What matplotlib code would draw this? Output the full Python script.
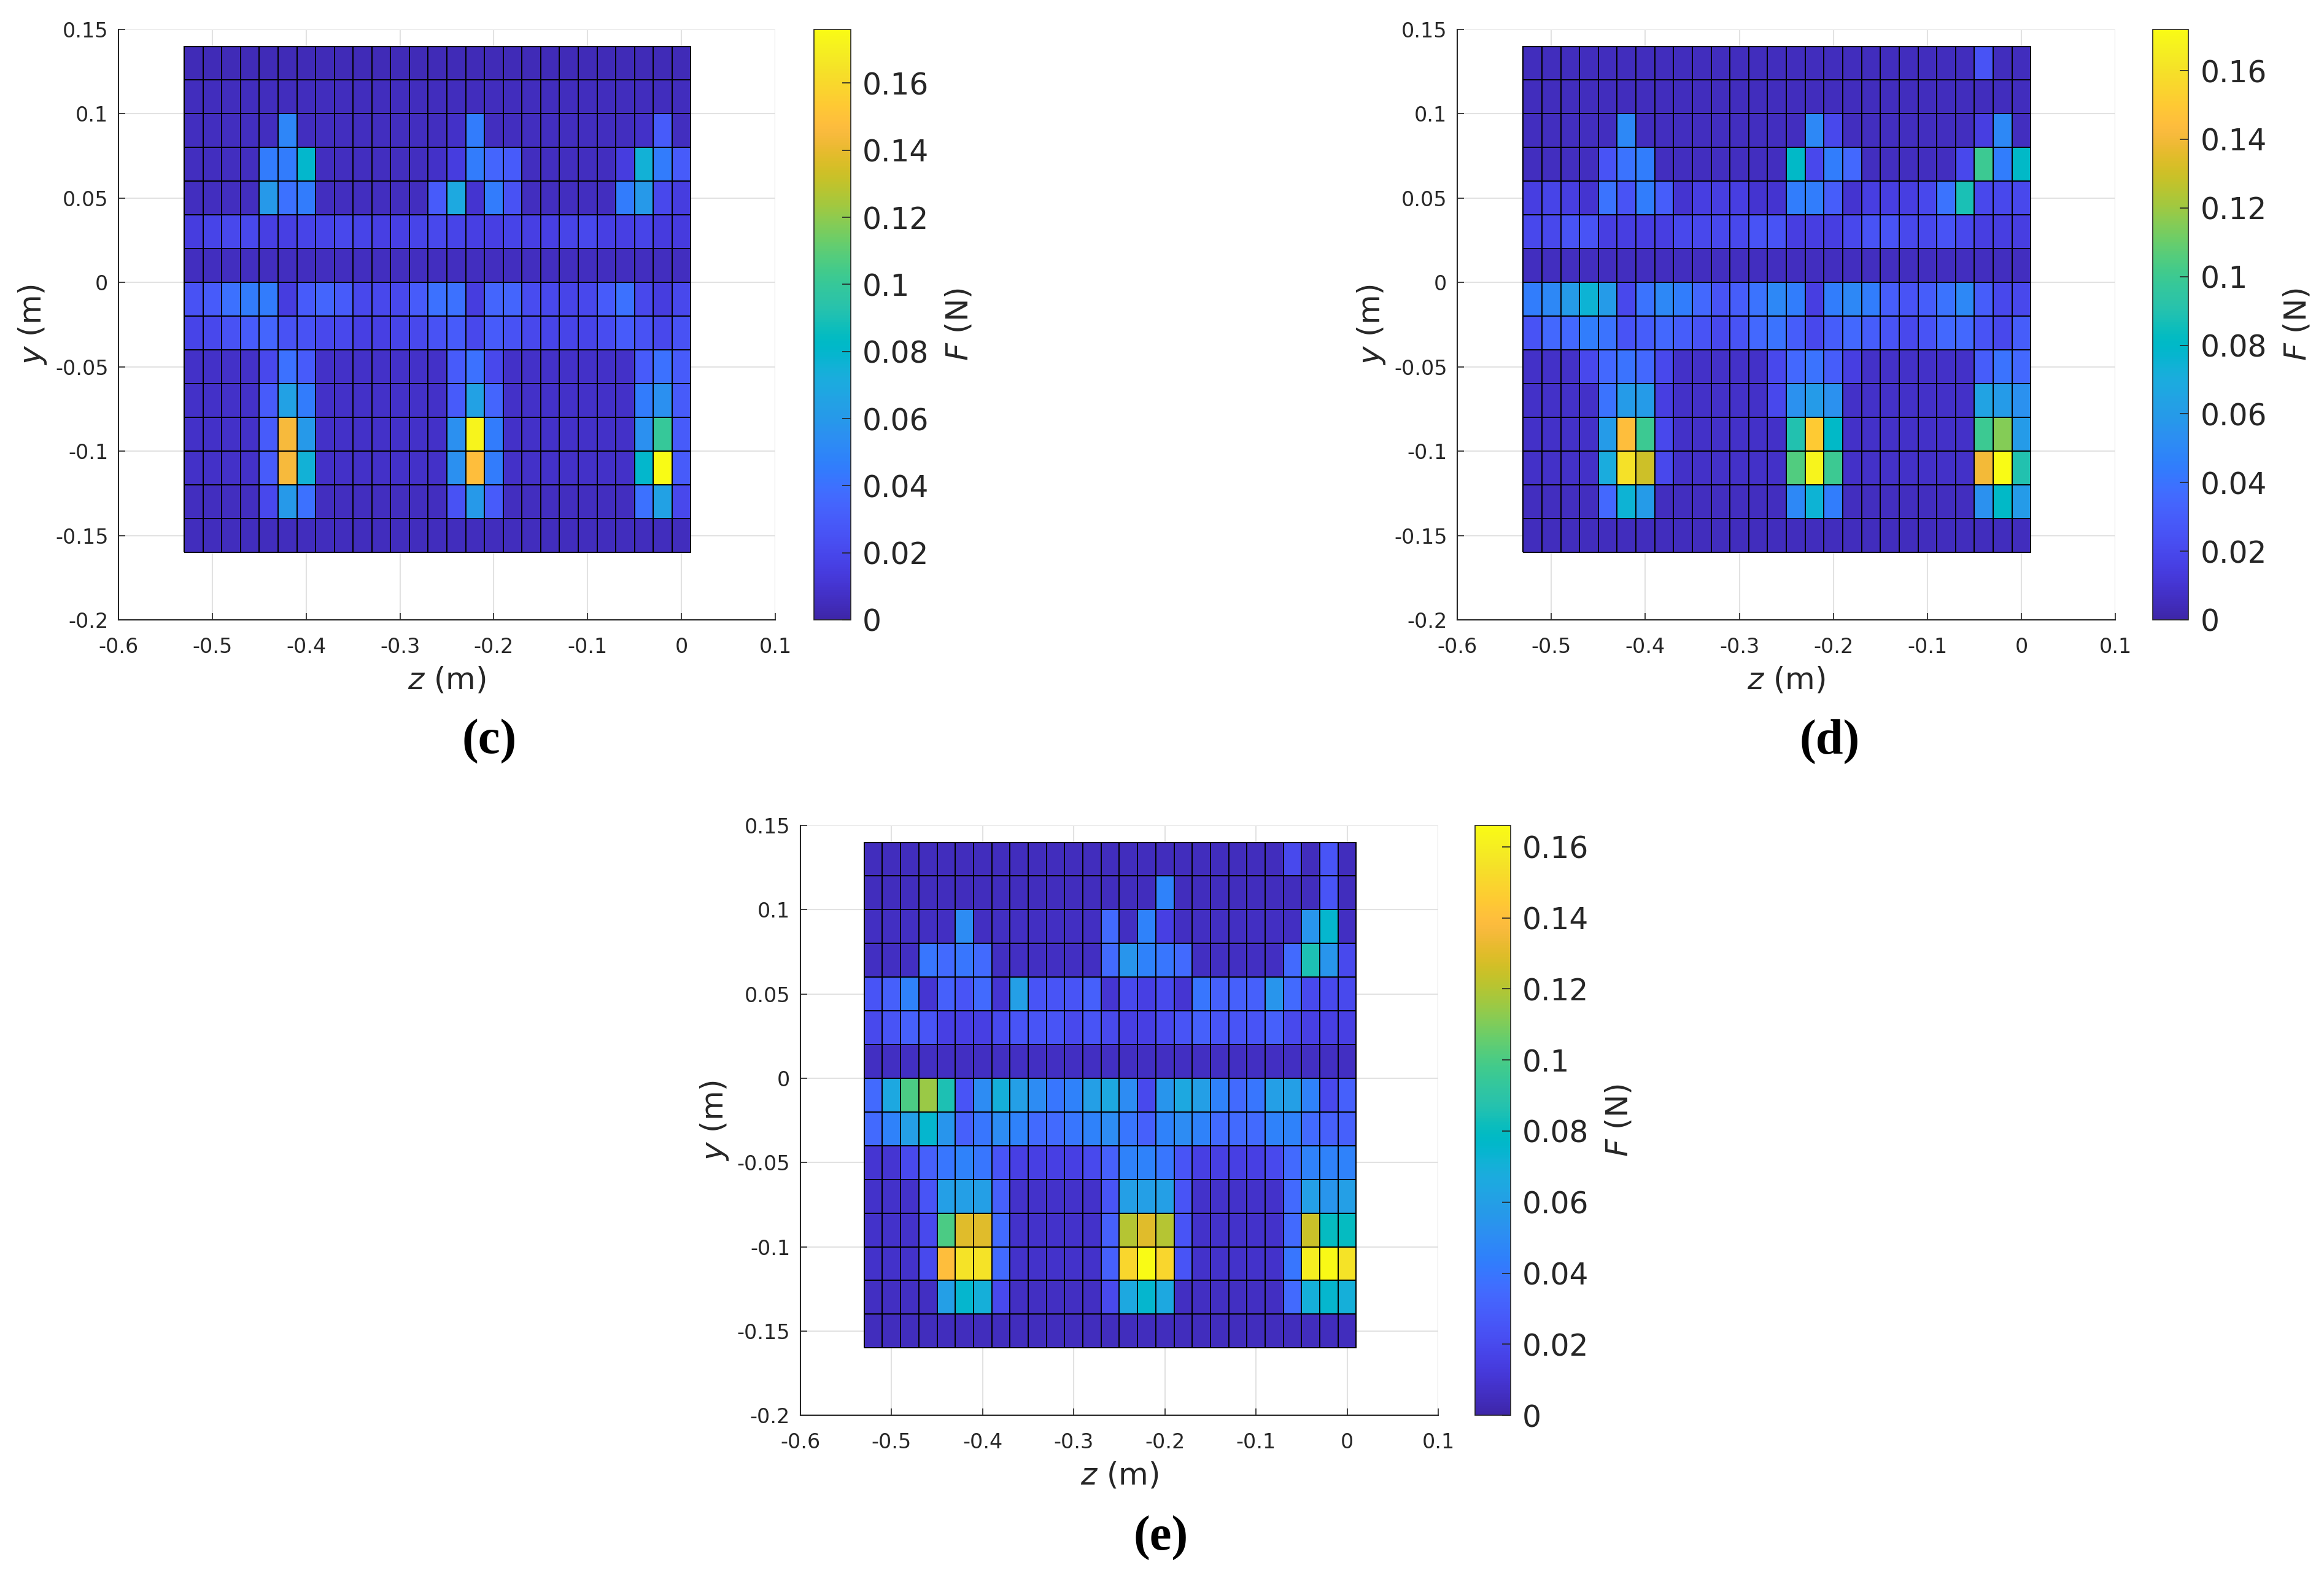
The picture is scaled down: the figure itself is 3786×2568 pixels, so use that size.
import numpy as np
import matplotlib
matplotlib.use('Agg')
import matplotlib.pyplot as plt
from matplotlib.colors import LinearSegmentedColormap
from matplotlib.ticker import FuncFormatter

plt.rcParams['font.family'] = ['DejaVu Sans']
plt.rcParams['axes.unicode_minus'] = False
plt.rcParams['mathtext.fontset'] = 'dejavusans'

# grid of the sensor cells (m)
z_edges = np.round(np.arange(-0.53, 0.0101, 0.02), 3)   # 28 edges -> 27 columns
y_edges = np.round(np.arange(-0.16, 0.1401, 0.02), 3)   # 16 edges -> 15 rows

# force per cell in mN, rows from top (y=0.14) to bottom (y=-0.16)
F_c = [
    [4] * 27,
    [5] * 27,
    [6, 6, 6, 6, 6, 50, 6, 6, 6, 6, 6, 6, 6, 6, 8, 45, 6, 6, 6, 6, 6, 6, 6, 6, 8, 30, 6],
    [6, 6, 6, 6, 45, 45, 80, 6, 6, 6, 6, 6, 6, 8, 15, 45, 35, 30, 6, 6, 6, 6, 6, 15, 75, 45, 30],
    [6, 6, 6, 6, 60, 40, 45, 6, 6, 6, 6, 6, 6, 30, 70, 10, 45, 25, 6, 6, 6, 6, 6, 45, 60, 20, 15],
    [15, 18, 20, 20, 16, 16, 18, 18, 20, 18, 16, 16, 18, 20, 18, 16, 16, 18, 16, 16, 18, 20, 16, 16, 18, 14, 14],
    [6] * 27,
    [25, 30, 40, 45, 45, 15, 30, 35, 30, 20, 20, 20, 30, 40, 40, 15, 35, 35, 22, 20, 18, 20, 30, 40, 20, 15, 20],
    [18, 20, 25, 30, 35, 25, 25, 20, 20, 16, 16, 18, 20, 25, 30, 20, 30, 25, 20, 18, 18, 18, 22, 30, 25, 20, 25],
    [8, 8, 8, 8, 20, 40, 30, 8, 8, 8, 8, 8, 8, 8, 30, 40, 20, 8, 8, 8, 8, 8, 8, 8, 30, 40, 30],
    [8, 8, 8, 8, 30, 65, 45, 8, 8, 8, 8, 8, 8, 8, 30, 65, 35, 8, 8, 8, 8, 8, 8, 8, 45, 55, 30],
    [8, 8, 8, 8, 30, 145, 60, 8, 8, 8, 8, 8, 8, 8, 55, 172, 45, 8, 8, 8, 8, 8, 8, 8, 55, 100, 30],
    [8, 8, 8, 8, 30, 145, 75, 8, 8, 8, 8, 8, 8, 8, 55, 148, 45, 8, 8, 8, 8, 8, 8, 8, 80, 176, 30],
    [6, 6, 6, 6, 20, 60, 40, 6, 6, 6, 6, 6, 6, 6, 25, 60, 30, 6, 6, 6, 6, 6, 6, 6, 40, 65, 20],
    [5] * 27,
]

F_d = [
    [5] * 24 + [25, 5, 5],
    [5] * 27,
    [6, 6, 6, 6, 6, 50, 6, 6, 6, 6, 6, 6, 6, 6, 6, 50, 20, 6, 6, 6, 6, 6, 6, 6, 15, 50, 6],
    [6, 6, 6, 6, 25, 40, 45, 6, 6, 6, 6, 6, 6, 6, 80, 20, 45, 35, 6, 6, 6, 6, 6, 20, 100, 45, 80],
    [15, 18, 15, 10, 40, 25, 45, 30, 10, 15, 15, 15, 10, 10, 45, 45, 30, 10, 15, 15, 15, 20, 40, 88, 20, 20, 20],
    [20, 20, 25, 25, 15, 15, 15, 15, 20, 20, 20, 20, 25, 25, 15, 15, 15, 20, 25, 25, 20, 20, 25, 20, 15, 15, 15],
    [6] * 27,
    [45, 50, 60, 75, 60, 20, 40, 50, 45, 35, 25, 30, 40, 50, 45, 15, 45, 50, 45, 30, 25, 30, 40, 50, 30, 20, 20],
    [25, 35, 35, 45, 40, 25, 30, 35, 30, 25, 20, 25, 35, 40, 30, 20, 30, 35, 30, 25, 20, 25, 35, 35, 25, 20, 30],
    [8, 8, 8, 20, 35, 40, 35, 20, 8, 8, 8, 8, 8, 20, 35, 40, 30, 15, 8, 8, 8, 8, 8, 8, 30, 40, 35],
    [8, 8, 8, 8, 40, 60, 60, 15, 8, 8, 8, 8, 8, 20, 55, 60, 55, 8, 8, 8, 8, 8, 8, 8, 65, 60, 55],
    [8, 8, 8, 8, 60, 145, 100, 20, 8, 8, 8, 8, 8, 8, 90, 150, 80, 8, 8, 8, 8, 8, 8, 8, 100, 115, 60],
    [8, 8, 8, 8, 70, 160, 130, 20, 8, 8, 8, 8, 8, 8, 105, 168, 100, 8, 8, 8, 8, 8, 8, 8, 140, 172, 90],
    [6, 6, 6, 6, 35, 75, 60, 6, 6, 6, 6, 6, 6, 6, 50, 75, 45, 6, 6, 6, 6, 6, 6, 6, 55, 80, 60],
    [5] * 27,
]

F_e = [
    [5] * 23 + [20, 5, 25, 5],
    [5] * 16 + [45] + [5] * 8 + [25, 5],
    [6, 6, 6, 6, 6, 50, 6, 6, 6, 6, 6, 6, 6, 35, 6, 45, 15, 6, 6, 6, 6, 6, 6, 6, 55, 75, 6],
    [6, 6, 6, 40, 35, 40, 35, 6, 6, 6, 6, 6, 6, 35, 55, 45, 40, 35, 6, 6, 6, 6, 6, 35, 85, 55, 20],
    [25, 30, 45, 10, 30, 25, 35, 10, 60, 25, 25, 25, 30, 10, 20, 15, 20, 10, 40, 30, 30, 30, 55, 35, 20, 20, 20],
    [20, 25, 30, 25, 15, 15, 15, 20, 25, 25, 25, 20, 25, 20, 15, 15, 20, 25, 30, 25, 25, 25, 30, 20, 15, 15, 15],
    [6] * 27,
    [35, 65, 100, 115, 85, 25, 50, 70, 60, 50, 40, 45, 60, 65, 50, 20, 55, 65, 60, 45, 35, 40, 60, 60, 45, 20, 30],
    [35, 45, 60, 75, 55, 30, 40, 50, 45, 35, 35, 40, 45, 50, 40, 30, 45, 50, 45, 35, 35, 35, 45, 45, 35, 30, 30],
    [10, 10, 20, 30, 40, 45, 40, 25, 15, 15, 15, 15, 20, 30, 45, 45, 40, 25, 15, 15, 15, 15, 20, 35, 45, 45, 45],
    [8, 8, 8, 25, 60, 60, 60, 30, 8, 8, 8, 8, 8, 25, 60, 60, 60, 25, 8, 8, 8, 8, 8, 35, 60, 55, 60],
    [8, 8, 8, 20, 100, 130, 130, 35, 8, 8, 8, 8, 8, 30, 120, 130, 120, 25, 8, 8, 8, 8, 8, 35, 125, 80, 80],
    [8, 8, 8, 20, 140, 155, 155, 35, 8, 8, 8, 8, 8, 30, 150, 166, 150, 25, 8, 8, 8, 8, 8, 40, 160, 165, 155],
    [6, 6, 6, 6, 60, 75, 70, 20, 6, 6, 6, 6, 6, 20, 65, 75, 65, 6, 6, 6, 6, 6, 6, 35, 70, 75, 70],
    [5] * 27,
]

panel_names = ['(c)', '(d)', '(e)']

# MATLAB parula, 64 entries
parula_rgb = [
    (0.2422, 0.1504, 0.6603), (0.2504, 0.1650, 0.7076), (0.2578, 0.1818, 0.7511), (0.2647, 0.1978, 0.7952),
    (0.2706, 0.2147, 0.8364), (0.2751, 0.2342, 0.8710), (0.2783, 0.2559, 0.8991), (0.2803, 0.2782, 0.9221),
    (0.2813, 0.3006, 0.9414), (0.2810, 0.3228, 0.9579), (0.2795, 0.3447, 0.9717), (0.2760, 0.3667, 0.9829),
    (0.2699, 0.3892, 0.9906), (0.2602, 0.4123, 0.9952), (0.2440, 0.4358, 0.9988), (0.2206, 0.4603, 0.9973),
    (0.1963, 0.4847, 0.9892), (0.1834, 0.5074, 0.9798), (0.1786, 0.5289, 0.9682), (0.1764, 0.5499, 0.9520),
    (0.1687, 0.5703, 0.9359), (0.1540, 0.5902, 0.9218), (0.1460, 0.6091, 0.9079), (0.1380, 0.6276, 0.8973),
    (0.1248, 0.6459, 0.8883), (0.1113, 0.6635, 0.8763), (0.0952, 0.6798, 0.8598), (0.0689, 0.6948, 0.8394),
    (0.0297, 0.7082, 0.8163), (0.0036, 0.7203, 0.7917), (0.0067, 0.7312, 0.7660), (0.0433, 0.7411, 0.7394),
    (0.0964, 0.7500, 0.7120), (0.1408, 0.7584, 0.6842), (0.1717, 0.7670, 0.6554), (0.1938, 0.7758, 0.6251),
    (0.2161, 0.7843, 0.5923), (0.2470, 0.7918, 0.5567), (0.2906, 0.7973, 0.5188), (0.3406, 0.8008, 0.4789),
    (0.3909, 0.8029, 0.4354), (0.4456, 0.8024, 0.3909), (0.5044, 0.7993, 0.3480), (0.5616, 0.7942, 0.3045),
    (0.6174, 0.7876, 0.2612), (0.6720, 0.7793, 0.2227), (0.7242, 0.7698, 0.1910), (0.7738, 0.7598, 0.1646),
    (0.8203, 0.7498, 0.1535), (0.8634, 0.7406, 0.1596), (0.9035, 0.7330, 0.1774), (0.9393, 0.7288, 0.2100),
    (0.9728, 0.7298, 0.2394), (0.9956, 0.7434, 0.2371), (0.9970, 0.7659, 0.2199), (0.9952, 0.7893, 0.2028),
    (0.9892, 0.8136, 0.1885), (0.9786, 0.8386, 0.1766), (0.9676, 0.8639, 0.1643), (0.9610, 0.8890, 0.1537),
    (0.9597, 0.9135, 0.1423), (0.9628, 0.9373, 0.1265), (0.9691, 0.9606, 0.1064), (0.9769, 0.9839, 0.0805),
]
parula = LinearSegmentedColormap.from_list('parula', parula_rgb, N=256)


def g_fmt(v, pos=None):
    if abs(v) < 1e-9:
        return '0'
    return '%g' % round(v, 4)


def heat_panel(fig, F_mN, ax_rect, cb_rect, name, name_xy):
    F = np.flipud(np.array(F_mN, dtype=float) / 1000.0)

    ax = fig.add_axes(ax_rect)
    mesh = ax.pcolormesh(z_edges, y_edges, F, cmap=parula, vmin=0, vmax=F.max(),
                         edgecolors='k', linewidth=1.3)
    ax.set_xlim(-0.6, 0.1)
    ax.set_ylim(-0.2, 0.15)
    ax.set_xticks(np.arange(-0.6, 0.101, 0.1))
    ax.set_yticks(np.arange(-0.2, 0.151, 0.05))
    ax.xaxis.set_major_formatter(FuncFormatter(g_fmt))
    ax.yaxis.set_major_formatter(FuncFormatter(g_fmt))
    ax.grid(True, color='#e2e2e2', linewidth=1.5)
    ax.set_axisbelow(True)
    for s in ['top', 'right']:
        ax.spines[s].set_visible(False)
    for s in ['left', 'bottom']:
        ax.spines[s].set_color('#262626')
        ax.spines[s].set_linewidth(1.5)
    ax.tick_params(direction='in', length=8, width=1.2, labelsize=24,
                   colors='#262626')
    ax.tick_params(axis='x', pad=20)
    ax.tick_params(axis='y', pad=12)
    ax.set_xlabel(r'$\it{z}$ (m)', fontsize=36, color='#262626', labelpad=10)
    ax.set_ylabel(r'$\it{y}$ (m)', fontsize=36, color='#262626', labelpad=8)

    cax = fig.add_axes(cb_rect)
    cb = fig.colorbar(mesh, cax=cax)
    cb.set_ticks(np.arange(0, F.max() + 1e-9, 0.02))
    cb.ax.yaxis.set_major_formatter(FuncFormatter(g_fmt))
    cb.ax.tick_params(direction='in', length=10, width=1.2, labelsize=35,
                      colors='#262626', pad=14)
    cb.outline.set_linewidth(1.2)
    cb.outline.set_edgecolor('#262626')
    cb.set_label(r'$\it{F}$ (N)', fontsize=36, color='#262626', labelpad=18)

    fig.text(name_xy[0], name_xy[1], name, ha='center', va='center',
             fontsize=58, family='Liberation Serif', weight='bold')
    return ax


fig = plt.figure(figsize=(37.87, 25.68), dpi=100)

heat_panel(fig, F_c, [0.0510, 0.6067, 0.2825, 0.3746], [0.3501, 0.6067, 0.0158, 0.3746],
           panel_names[0], (0.2104, 0.5296))
heat_panel(fig, F_d, [0.6269, 0.6067, 0.2831, 0.3746], [0.9261, 0.6067, 0.0153, 0.3746],
           panel_names[1], (0.7870, 0.5296))
heat_panel(fig, F_e, [0.3443, 0.1020, 0.2744, 0.3742], [0.6345, 0.1020, 0.0153, 0.3742],
           panel_names[2], (0.4993, 0.0238))

fig.savefig('out.png', dpi=100, facecolor='white')
